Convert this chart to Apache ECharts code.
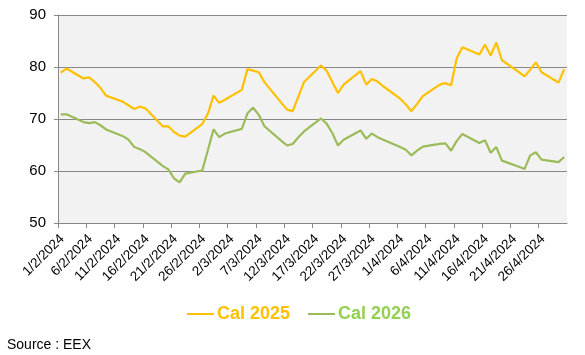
<!DOCTYPE html>
<html>
<head>
<meta charset="utf-8">
<script src="https://cdn.jsdelivr.net/npm/echarts@6/dist/echarts.min.js"></script>
<style>
html,body{margin:0;padding:0;background:#fff;}
#chart{width:585px;height:355px;}
</style>
</head>
<body>
<div id="chart"></div>
<script>
// Trading days (yyyy-mm-dd)
var tradeDates = [
  '2024-02-01','2024-02-02','2024-02-05','2024-02-06','2024-02-07','2024-02-08','2024-02-09',
  '2024-02-12','2024-02-13','2024-02-14','2024-02-15','2024-02-16',
  '2024-02-19','2024-02-20','2024-02-21','2024-02-22','2024-02-23',
  '2024-02-26','2024-02-27','2024-02-28','2024-02-29','2024-03-01',
  '2024-03-04','2024-03-05','2024-03-06','2024-03-07','2024-03-08',
  '2024-03-11','2024-03-12','2024-03-13','2024-03-14','2024-03-15',
  '2024-03-18','2024-03-19','2024-03-20','2024-03-21','2024-03-22',
  '2024-03-25','2024-03-26','2024-03-27','2024-03-28','2024-03-29',
  '2024-04-01','2024-04-02','2024-04-03','2024-04-04','2024-04-05',
  '2024-04-08','2024-04-09','2024-04-10','2024-04-11','2024-04-12',
  '2024-04-15','2024-04-16','2024-04-17','2024-04-18','2024-04-19',
  '2024-04-22','2024-04-23','2024-04-24','2024-04-25','2024-04-26',
  '2024-04-29','2024-04-30'
];
var cal2025 = [
  78.9, 79.7, 77.8, 78.0, 77.1, 76.0, 74.5,
  73.3, 72.6, 71.9, 72.4, 72.0,
  68.6, 68.6, 67.5, 66.8, 66.6,
  69.0, 71.0, 74.5, 73.1, 73.7,
  75.6, 79.6, 79.3, 79.0, 77.1,
  73.1, 71.8, 71.5, 74.3, 77.1,
  80.3, 79.3, 77.1, 75.0, 76.6,
  79.2, 76.6, 77.7, 77.2, 76.3,
  73.9, 72.8, 71.5, 72.9, 74.4,
  76.6, 76.9, 76.5, 81.7, 83.8,
  82.4, 84.3, 82.2, 84.7, 81.3,
  79.0, 78.2, 79.5, 80.9, 79.0,
  77.0, 79.6
];
var cal2026 = [
  70.9, 70.9, 69.4, 69.2, 69.4, 68.8, 68.0,
  66.7, 66.0, 64.6, 64.2, 63.6,
  61.0, 60.3, 58.6, 57.8, 59.5,
  60.1, 64.0, 68.0, 66.5, 67.2,
  68.1, 71.1, 72.2, 70.8, 68.6,
  65.8, 64.9, 65.2, 66.5, 67.6,
  70.1, 69.1, 67.3, 64.9, 66.0,
  67.8, 66.2, 67.2, 66.5, 66.0,
  64.6, 64.1, 63.0, 63.9, 64.7,
  65.2, 65.3, 63.9, 65.8, 67.1,
  65.4, 65.9, 63.5, 64.6, 62.0,
  60.8, 60.4, 63.0, 63.6, 62.2,
  61.7, 62.7
];
var seriesNames = ['Cal 2025', 'Cal 2026'];
var yTicks = [50, 60, 70, 80, 90];

var DAY = 86400000;
var startUTC = Date.UTC(2024, 1, 1);
function dayOffset(s) {
  var p = s.split('-');
  return (Date.UTC(+p[0], +p[1] - 1, +p[2]) - startUTC) / DAY + 0.5;
}
function toPairs(vals) {
  return tradeDates.map(function (d, i) { return [dayOffset(d), vals[i]]; });
}
function fmtDate(v) {
  var dt = new Date(startUTC + v * DAY);
  return dt.getUTCDate() + '/' + (dt.getUTCMonth() + 1) + '/' + dt.getUTCFullYear();
}

var chart = echarts.init(document.getElementById('chart'), null, {renderer: 'canvas'});
var font = 'Liberation Sans, Arial, sans-serif';
chart.setOption({
  animation: false,
  backgroundColor: '#ffffff',
  textStyle: {fontFamily: font},
  grid: {
    left: 58, right: 18, top: 15, bottom: 132,
    show: true, backgroundColor: '#F2F2F2', borderWidth: 0
  },
  xAxis: {
    type: 'value',
    min: 0, max: 90, interval: 5,
    axisLine: {show: true, onZero: false, lineStyle: {color: '#888888', width: 1}},
    axisTick: {show: true, length: 5, lineStyle: {color: '#888888'}},
    splitLine: {show: false},
    axisLabel: {
      rotate: 45, fontSize: 13.5, color: '#000', fontFamily: font, margin: 18,
      padding: [0, -6, 0, 0],
      showMaxLabel: false,
      formatter: function (v) { return v >= 90 ? '' : fmtDate(v); }
    }
  },
  yAxis: {
    type: 'value',
    min: yTicks[0], max: yTicks[yTicks.length - 1], interval: 10,
    axisLine: {show: true, lineStyle: {color: '#888888', width: 1}},
    axisTick: {show: true, length: 4, lineStyle: {color: '#888888'}},
    splitLine: {show: true, lineStyle: {color: '#888888', width: 1}},
    axisLabel: {fontSize: 15, color: '#000', fontFamily: font, margin: 12}
  },
  legend: {
    left: 187, top: 305, padding: 0,
    icon: 'rect', itemWidth: 27, itemHeight: 2, itemGap: 18,
    data: [
      {name: seriesNames[0], textStyle: {color: '#FFC000'}},
      {name: seriesNames[1], textStyle: {color: '#92D050'}}
    ],
    textStyle: {fontSize: 18, fontWeight: 'bold', fontFamily: font, padding: [0, 0, 0, -2]}
  },
  graphic: [{
    type: 'text', left: 7, top: 338,
    style: {text: 'Source : EEX', fontSize: 14, fill: '#000', fontFamily: font}
  }],
  series: [
    {
      name: seriesNames[0], type: 'line', data: toPairs(cal2025),
      showSymbol: false, symbol: 'none',
      lineStyle: {color: '#FFC000', width: 2.2},
      itemStyle: {color: '#FFC000'}
    },
    {
      name: seriesNames[1], type: 'line', data: toPairs(cal2026),
      showSymbol: false, symbol: 'none',
      lineStyle: {color: '#9BBB59', width: 2.2},
      itemStyle: {color: '#9BBB59'}
    }
  ]
});
</script>
</body>
</html>
